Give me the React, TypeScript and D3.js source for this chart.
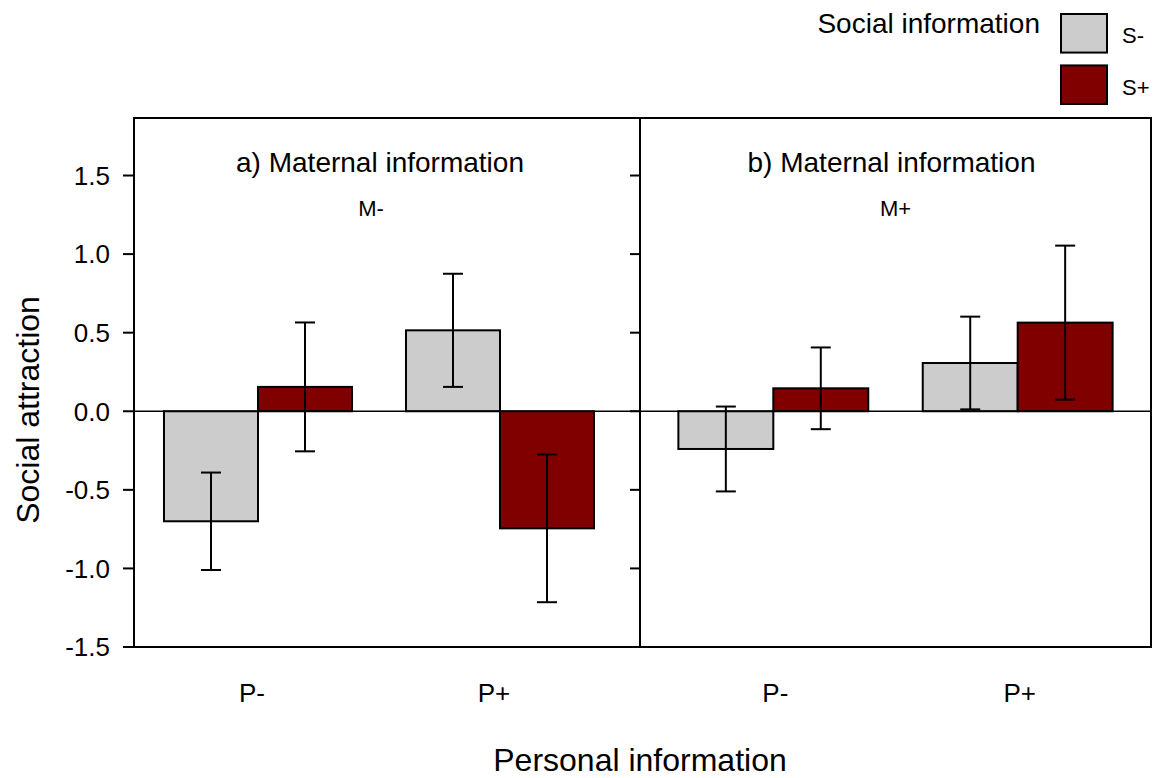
import { useRef, useEffect } from "react";
import * as d3 from "d3";

const panels = ["M-", "M+"];
const panelTitles = ["a) Maternal information", "b) Maternal information"];
const personal = ["P-", "P+"];
const social = ["S-", "S+"];

// mean values per panel, rows = personal (P-, P+), cols = social (S-, S+)
const meansM0 = [
  [-0.7, 0.155],
  [0.515, -0.745],
];
const errM0 = [
  [0.31, 0.41],
  [0.36, 0.47],
];
const meansM1 = [
  [-0.24, 0.146],
  [0.307, 0.564],
];
const errM1 = [
  [0.27, 0.26],
  [0.295, 0.49],
];

const yTicks = [-1.5, -1.0, -0.5, 0.0, 0.5, 1.0, 1.5];
const colors = ["#cccccc", "#800000"];

const W = 1157;
const H = 778;
const FONT = "'Liberation Sans', Arial, Helvetica, sans-serif";

const App = () => {
  const svgRef = useRef<SVGSVGElement | null>(null);

  useEffect(() => {
    if (!svgRef.current) return;
    const svg = d3.select(svgRef.current);
    svg.selectAll("*").remove();

    const frame = { left: 134, right: 1151, top: 118, bottom: 647, mid: 640 };

    const y = d3.scaleLinear().domain([-1.5, 1.866]).range([frame.bottom, frame.top]);

    // band ranges for each panel
    const panelRanges: [number, number][] = [
      [126, 632],
      [640, 1151],
    ];
    const panelFrames: [number, number][] = [
      [frame.left, frame.mid],
      [frame.mid, frame.right],
    ];
    const labelShift = [-6, 2];
    const allMeans = [meansM0, meansM1];
    const allErr = [errM0, errM1];

    const g = svg.append("g").attr("font-family", FONT);

    panels.forEach((p, pi) => {
      const x0 = d3
        .scaleBand<string>()
        .domain(personal)
        .range(panelRanges[pi])
        .paddingInner(0.223)
        .paddingOuter(0.157);
      const x1 = d3.scaleBand<string>().domain(social).range([0, x0.bandwidth()]);

      const pg = g.append("g");
      const rows = personal.flatMap((pk, i) =>
        social.map((sk, j) => ({
          pk,
          sk,
          j,
          v: allMeans[pi][i][j],
          e: allErr[pi][i][j],
        }))
      );

      pg.selectAll("rect.bar")
        .data(rows)
        .join("rect")
        .attr("class", "bar")
        .attr("x", (d) => (x0(d.pk) as number) + (x1(d.sk) as number))
        .attr("y", (d) => y(Math.max(0, d.v)))
        .attr("width", x1.bandwidth())
        .attr("height", (d) => Math.abs(y(d.v) - y(0)))
        .attr("fill", (d) => colors[d.j])
        .attr("stroke", "#000")
        .attr("stroke-width", 2);

      const cx = (d: (typeof rows)[0]) =>
        (x0(d.pk) as number) + (x1(d.sk) as number) + x1.bandwidth() / 2;

      const eg = pg.selectAll("g.err").data(rows).join("g").attr("class", "err");
      eg.append("line")
        .attr("x1", cx)
        .attr("x2", cx)
        .attr("y1", (d) => y(d.v + d.e))
        .attr("y2", (d) => y(d.v - d.e))
        .attr("stroke", "#000")
        .attr("stroke-width", 2);
      [1, -1].forEach((s) => {
        eg.append("line")
          .attr("x1", (d) => cx(d) - 10)
          .attr("x2", (d) => cx(d) + 10)
          .attr("y1", (d) => y(d.v + s * d.e))
          .attr("y2", (d) => y(d.v + s * d.e))
          .attr("stroke", "#000")
          .attr("stroke-width", 2);
      });

      // x tick labels
      pg.selectAll("text.xl")
        .data(personal)
        .join("text")
        .attr("class", "xl")
        .attr("x", (d) => (x0(d) as number) + x0.bandwidth() / 2 + labelShift[pi])
        .attr("y", 702)
        .attr("text-anchor", "middle")
        .attr("font-size", 26)
        .text((d) => d);

      const [fl, fr] = panelFrames[pi];
      const cxPanel = (fl + fr) / 2;
      pg.append("text")
        .attr("x", cxPanel - (pi === 0 ? 7 : 4))
        .attr("y", 172)
        .attr("text-anchor", "middle")
        .attr("font-size", 28)
        .text(panelTitles[pi]);
      pg.append("text")
        .attr("x", cxPanel - (pi === 0 ? 16 : 0))
        .attr("y", 216)
        .attr("text-anchor", "middle")
        .attr("font-size", 22)
        .text(p);
    });

    // zero line
    g.append("line")
      .attr("x1", frame.left)
      .attr("x2", frame.right)
      .attr("y1", y(0))
      .attr("y2", y(0))
      .attr("stroke", "#000")
      .attr("stroke-width", 1.5);

    // frames
    g.append("rect")
      .attr("x", frame.left)
      .attr("y", frame.top)
      .attr("width", frame.right - frame.left)
      .attr("height", frame.bottom - frame.top)
      .attr("fill", "none")
      .attr("stroke", "#000")
      .attr("stroke-width", 2);
    g.append("line")
      .attr("x1", frame.mid)
      .attr("x2", frame.mid)
      .attr("y1", frame.top)
      .attr("y2", frame.bottom)
      .attr("stroke", "#000")
      .attr("stroke-width", 2);

    // left y axis
    const yAxis = g.append("g").attr("transform", `translate(${frame.left},0)`);
    yAxis
      .selectAll("line")
      .data(yTicks)
      .join("line")
      .attr("x1", -11)
      .attr("x2", 0)
      .attr("y1", (d) => y(d))
      .attr("y2", (d) => y(d))
      .attr("stroke", "#000")
      .attr("stroke-width", 2);
    yAxis
      .selectAll("text")
      .data(yTicks)
      .join("text")
      .attr("x", -24)
      .attr("y", (d) => y(d))
      .attr("dy", "0.36em")
      .attr("text-anchor", "end")
      .attr("font-size", 26)
      .text((d) => d3.format(".1f")(d).replace("−", "-"));

    // inward ticks at the divider
    g.append("g")
      .selectAll("line")
      .data(yTicks)
      .join("line")
      .attr("x1", frame.mid - 10)
      .attr("x2", frame.mid)
      .attr("y1", (d) => y(d))
      .attr("y2", (d) => y(d))
      .attr("stroke", "#000")
      .attr("stroke-width", 2);

    // axis titles
    g.append("text")
      .attr("transform", `translate(39,410) rotate(-90)`)
      .attr("text-anchor", "middle")
      .attr("font-size", 32)
      .text("Social attraction");
    g.append("text")
      .attr("x", 640)
      .attr("y", 771)
      .attr("text-anchor", "middle")
      .attr("font-size", 32)
      .text("Personal information");

    // legend
    const lg = g.append("g");
    lg.append("text")
      .attr("x", 1040)
      .attr("y", 33)
      .attr("text-anchor", "end")
      .attr("font-size", 28)
      .text("Social information");
    const ly = d3.scaleBand<string>().domain(social).range([14, 104]).paddingInner(0.25);
    social.forEach((s, i) => {
      lg.append("rect")
        .attr("x", 1061)
        .attr("y", ly(s) as number)
        .attr("width", 46)
        .attr("height", ly.bandwidth())
        .attr("fill", colors[i])
        .attr("stroke", "#000")
        .attr("stroke-width", 2);
      lg.append("text")
        .attr("x", 1122)
        .attr("y", (ly(s) as number) + ly.bandwidth() / 2 + 2)
        .attr("dy", "0.36em")
        .attr("font-size", 22)
        .text(s);
    });
  }, []);

  return (
    <div style={{ position: "absolute", left: 0, top: 0, width: W, height: H, background: "#fff" }}>
      <svg ref={svgRef} width={W} height={H}></svg>
    </div>
  );
};

export default App;
